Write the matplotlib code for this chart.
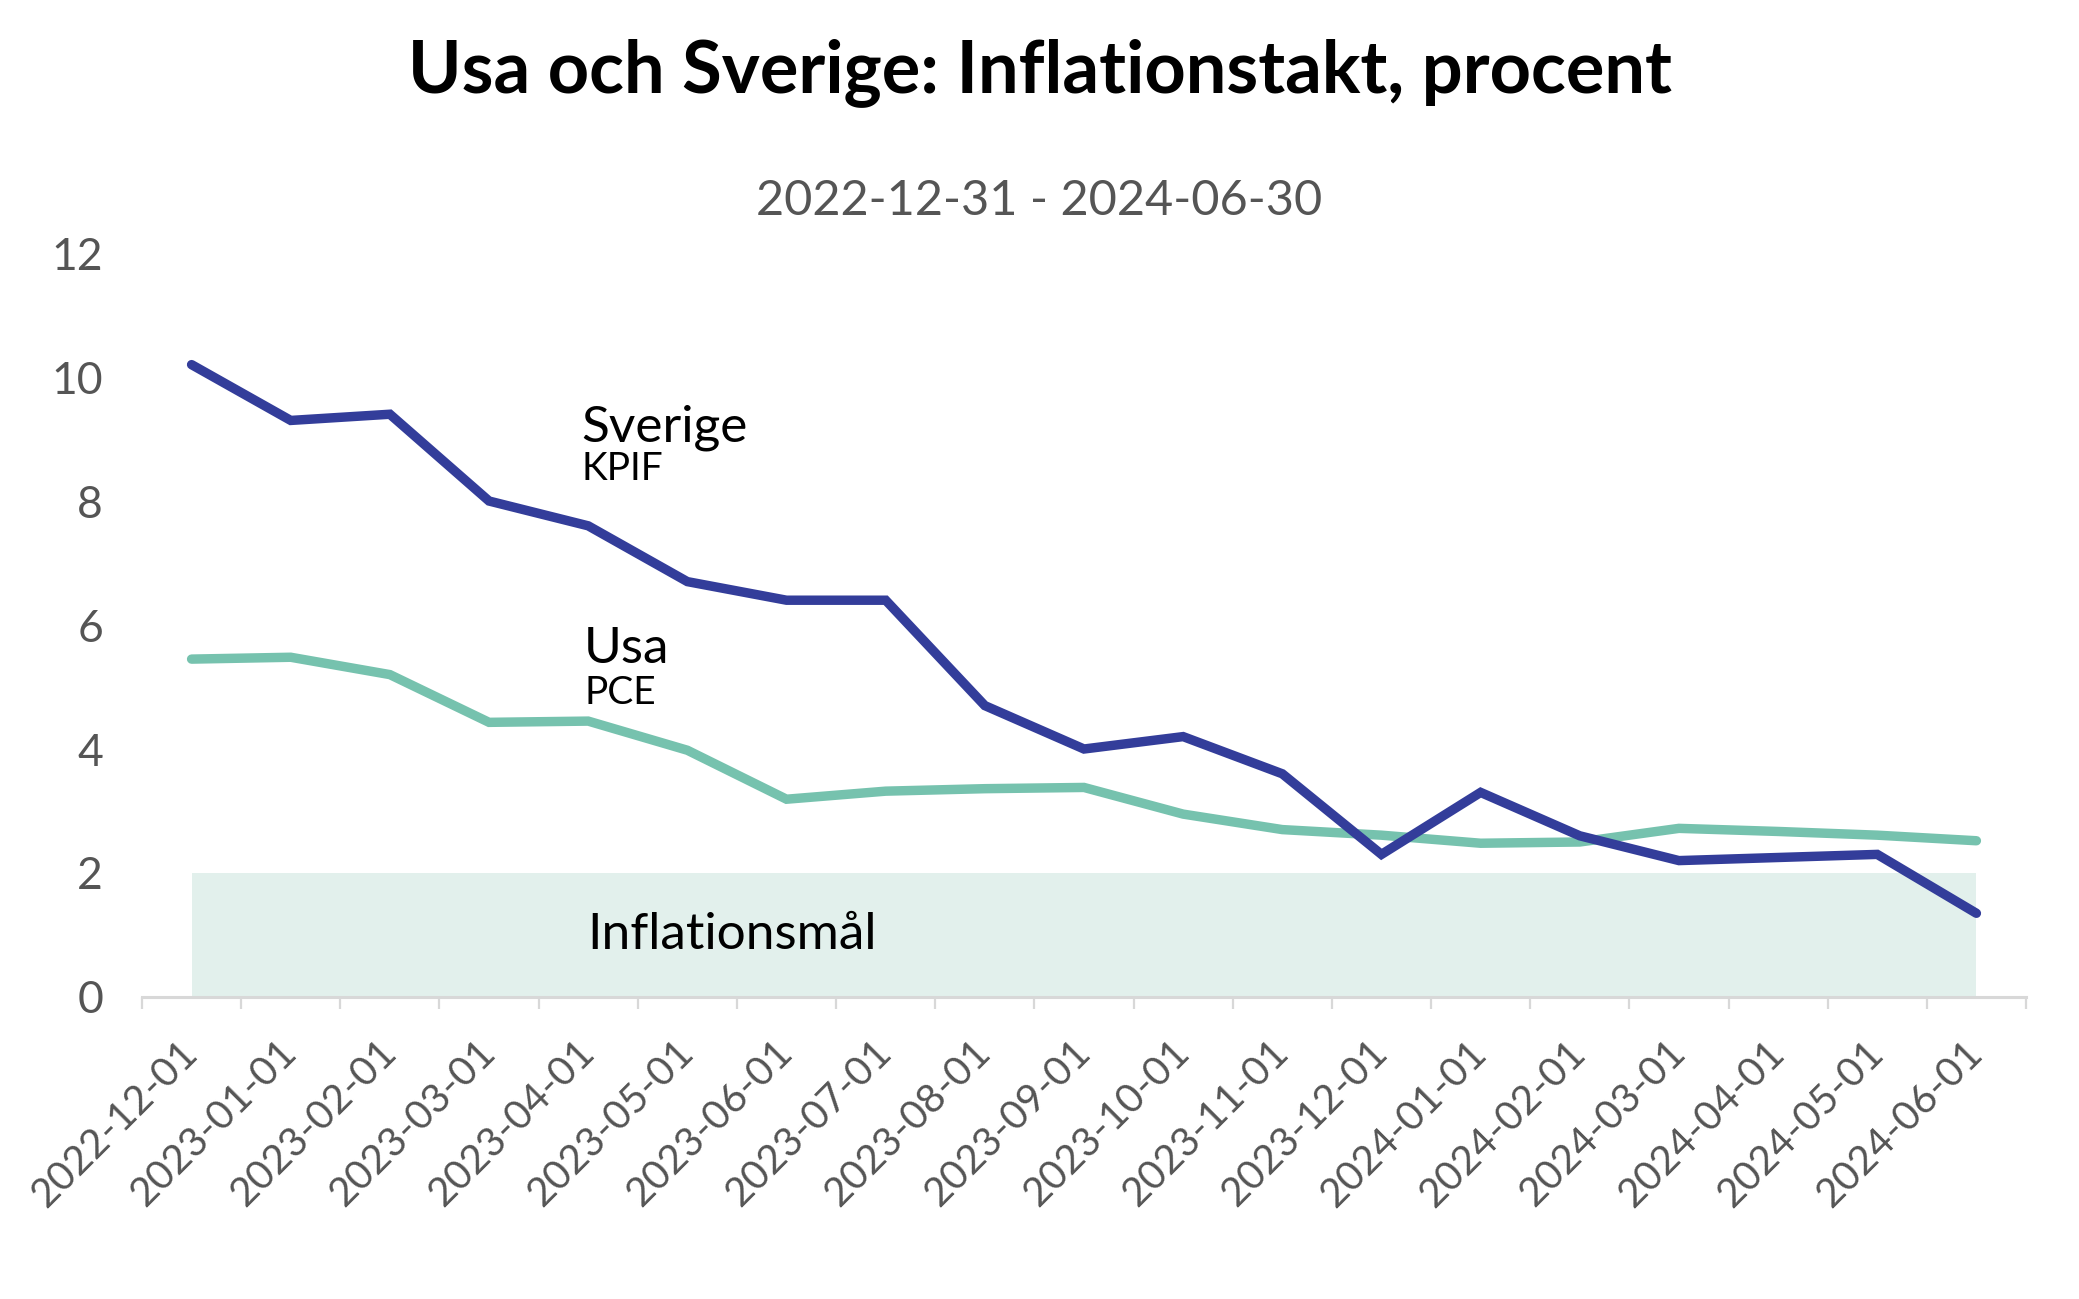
import matplotlib.pyplot as plt
import numpy as np

months = ['2022-12-01', '2023-01-01', '2023-02-01', '2023-03-01', '2023-04-01',
          '2023-05-01', '2023-06-01', '2023-07-01', '2023-08-01', '2023-09-01',
          '2023-10-01', '2023-11-01', '2023-12-01', '2024-01-01', '2024-02-01',
          '2024-03-01', '2024-04-01', '2024-05-01', '2024-06-01']
sverige_kpif = [10.2, 9.3, 9.4, 8.0, 7.6, 6.7, 6.4, 6.4, 4.7, 4.0,
                4.2, 3.6, 2.3, 3.3, 2.6, 2.2, 2.25, 2.3, 1.35]
usa_pce = [5.45, 5.48, 5.2, 4.43, 4.45, 3.98, 3.19, 3.32, 3.36, 3.38,
           2.95, 2.7, 2.61, 2.48, 2.5, 2.72, 2.67, 2.61, 2.52]
target_low, target_high = 0, 2

plt.rcParams['font.family'] = ['Lato', 'DejaVu Sans']

blue = '#333d9a'
teal = '#76c2ae'
band = '#e2f0ec'
grey = '#555555'

fig = plt.figure(figsize=(10.395, 6.495), dpi=200)
ax = fig.add_axes([0.0683, 0.2325, 0.9062, 0.5727])

x = np.arange(len(months))

# Target band 0-2 percent
ax.fill_between([x[0], x[-1]], target_low, target_high, color=band, lw=0, zorder=1)
ax.text(3.99, 0.77, 'Inflationsmål', fontsize=18.5, color='black', zorder=3)

ax.plot(x, sverige_kpif, color=blue, lw=3.4, solid_capstyle='round', solid_joinstyle='miter', zorder=3)
ax.plot(x, usa_pce, color=teal, lw=3.4, solid_capstyle='round', solid_joinstyle='miter', zorder=2)

# Series labels
ax.text(3.93, 8.96, 'Sverige', fontsize=18.5, color='black')
ax.text(3.93, 8.34, 'KPIF', fontsize=14, color='black')
ax.text(3.96, 5.39, 'Usa', fontsize=18.5, color='black')
ax.text(3.96, 4.73, 'PCE', fontsize=14, color='black')

ax.set_xlim(-0.5, len(months) - 0.5)
ax.set_ylim(0, 12)
ax.set_yticks(np.arange(0, 13, 2))
ax.tick_params(axis='y', length=0, pad=14, labelsize=16, labelcolor=grey)

ax.set_xticks(x)
ax.set_xticklabels(months, rotation=45, ha='right', va='center', rotation_mode='anchor')
ax.set_xticks(np.arange(-0.5, len(months), 1), minor=True)
ax.tick_params(axis='x', which='major', length=0, pad=18, labelsize=14.5, labelcolor=grey)
ax.tick_params(axis='x', which='minor', length=4.3, width=0.8, color='#d8d8d8', direction='out')

for side in ['top', 'right', 'left']:
    ax.spines[side].set_visible(False)
ax.spines['bottom'].set_color('#d8d8d8')
ax.spines['bottom'].set_linewidth(1.1)

fig.text(0.5, 0.944, 'Usa och Sverige: Inflationstakt, procent', ha='center', va='center',
         fontsize=26, fontweight='bold', color='black')
fig.text(0.5, 0.845, '2022-12-31 - 2024-06-30', ha='center', va='center',
         fontsize=17.5, color=grey)

fig.savefig('out.png', dpi=200)
